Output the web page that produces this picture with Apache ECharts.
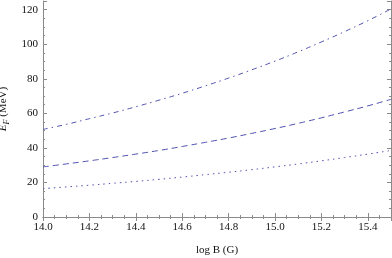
<!DOCTYPE html>
<html><head><meta charset="utf-8">
<script src="https://cdn.jsdelivr.net/npm/echarts@6/dist/echarts.min.js"></script>
<style>html,body{margin:0;padding:0;background:#fff}#c{width:392px;height:258px}</style>
</head><body><div id="c"></div>
<script>
const logB = [14.0,14.1,14.2,14.3,14.4,14.5,14.6,14.7,14.8,14.9,15.0,15.1,15.2,15.3,15.4,15.5];
const topSeries = [50.7,53.6,56.9,60.2,63.8,67.6,71.6,75.9,80.4,85.2,90.2,95.6,101.3,107.3,113.6,120.4];
const midSeries = [29.0,30.7,32.5,34.4,36.4,38.5,40.8,43.2,45.7,48.4,51.2,54.2,57.4,60.8,64.3,68.1];
const lowSeries = [16.4,17.4,18.4,19.5,20.6,21.8,23.1,24.5,25.9,27.4,29.0,30.7,32.5,34.4,36.4,38.5];
const xTicks = [14.0,14.2,14.4,14.6,14.8,15.0,15.2,15.4];
const yTicks = [0,20,40,60,80,100,120];

const lineColor = '#5252b0';
const font = 'Liberation Serif';
const axisCol = '#8a8a8a';
function pairs(ys){ return logB.map((x,i)=>[x, ys[i]]); }

const common = {
  axisLine:{show:true,lineStyle:{color:axisCol,width:1}},
  splitLine:{show:false}
};
const chart = echarts.init(document.getElementById('c'));
chart.setOption({
  animation:false,
  grid:{left:43,right:1,top:1,bottom:41,containLabel:false,outerBoundsMode:'none'},
  xAxis:[
    Object.assign({type:'value',min:14.0,max:15.5,interval:0.2,position:'bottom',
      name:'log B (G)',nameLocation:'middle',nameGap:28,
      nameTextStyle:{fontFamily:font,fontSize:11,color:'#111'},
      axisTick:{show:true,inside:true,length:4,lineStyle:{color:axisCol}},
      minorTick:{show:true,splitNumber:4,length:2,lineStyle:{color:axisCol}},
      axisLabel:{fontFamily:font,fontSize:11,color:'#111',margin:5,
        formatter:v=>xTicks.some(t=>Math.abs(t-v)<1e-6)?v.toFixed(1):''}}, common),
    Object.assign({type:'value',min:14.0,max:15.5,interval:0.2,position:'top',
      axisTick:{show:true,inside:true,length:4,lineStyle:{color:axisCol}},
      minorTick:{show:true,splitNumber:4,length:2,lineStyle:{color:axisCol}},
      axisLabel:{show:false}}, common)
  ],
  yAxis:[
    Object.assign({type:'value',min:0,max:125,interval:20,position:'left',
      name:'{i|E}{s|F} (MeV)',nameLocation:'middle',nameGap:29,nameRotate:90,
      nameTextStyle:{fontFamily:font,fontSize:11,color:'#111',
        rich:{i:{fontFamily:font,fontStyle:'italic',fontSize:11,color:'#111'},
              s:{fontFamily:font,fontStyle:'italic',fontSize:8,color:'#111',verticalAlign:'bottom',padding:[6,0,0,0]}}},
      axisTick:{show:true,inside:true,length:4,lineStyle:{color:axisCol}},
      minorTick:{show:true,splitNumber:4,length:2,lineStyle:{color:axisCol}},
      axisLabel:{fontFamily:font,fontSize:11,color:'#111',margin:5,
        formatter:v=>yTicks.includes(v)?String(v):''}}, common),
    Object.assign({type:'value',min:0,max:125,interval:20,position:'right',
      axisTick:{show:true,inside:true,length:4,lineStyle:{color:axisCol}},
      minorTick:{show:true,splitNumber:4,length:2,lineStyle:{color:axisCol}},
      axisLabel:{show:false}}, common)
  ],
  series:[
    {type:'line',data:pairs(topSeries),smooth:true,showSymbol:false,
      lineStyle:{color:lineColor,width:1,type:[5,4,1.5,4]}},
    {type:'line',data:pairs(midSeries),smooth:true,showSymbol:false,
      lineStyle:{color:lineColor,width:1,type:[6,4]}},
    {type:'line',data:pairs(lowSeries),smooth:true,showSymbol:false,
      lineStyle:{color:lineColor,width:1,type:[1.5,4]}}
  ]
});
</script></body></html>
